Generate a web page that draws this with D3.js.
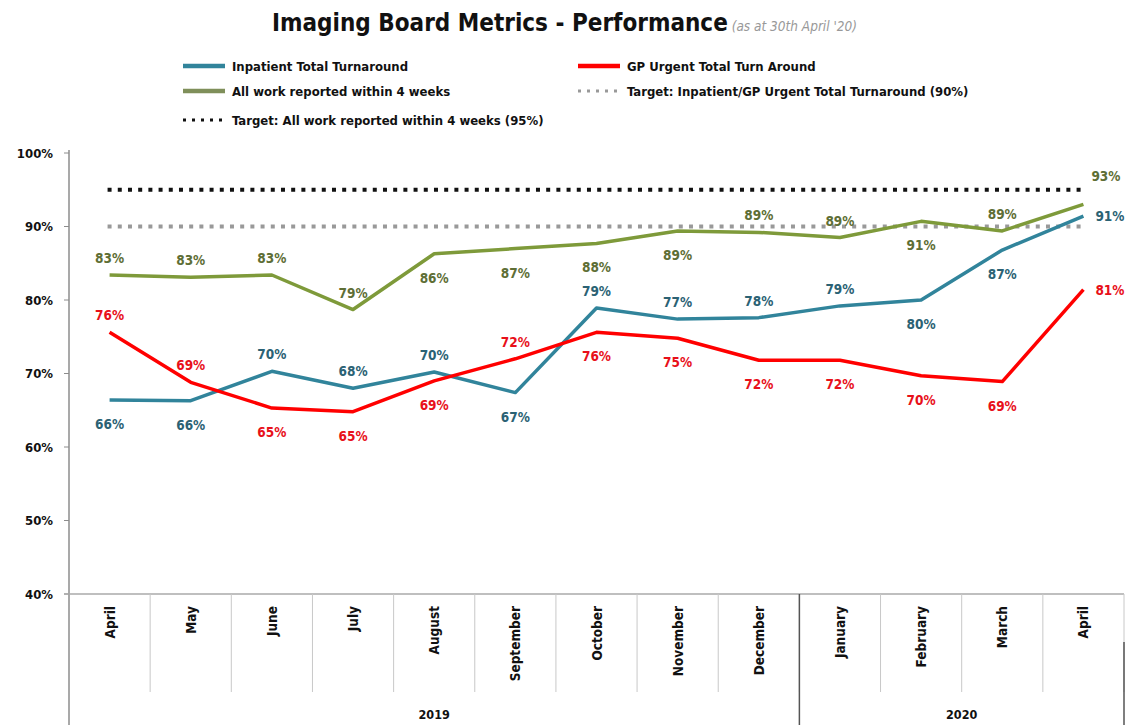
<!DOCTYPE html>
<html>
<head>
<meta charset="utf-8">
<style>
	body { margin: 0; background: #fff; }
	text { font-family: "Liberation Sans Narrow", "DejaVu Sans Condensed", "Liberation Sans", sans-serif; }
</style>
</head>
<body>
<svg width="1133" height="725"></svg>
<script src="https://d3js.org/d3.v7.min.js"></script>
<script>
	const svg = d3.select("svg");

	// chart data
	const months = ["April", "May", "June", "July", "August", "September", "October", "November", "December", "January", "February", "March", "April"];
	const years = [{ label: "2019", from: 0, to: 9 }, { label: "2020", from: 9, to: 13 }];
	const inpatient = [66.4, 66.3, 70.3, 68.0, 70.2, 67.4, 78.9, 77.4, 77.6, 79.2, 80.0, 86.8, 91.4];
	const gpUrgent = [75.6, 68.8, 65.3, 64.8, 69.0, 72.0, 75.6, 74.8, 71.8, 71.8, 69.7, 68.9, 81.4];
	const allWork = [83.4, 83.1, 83.4, 78.7, 86.3, 87.0, 87.7, 89.4, 89.2, 88.5, 90.7, 89.4, 93.0];
	const targetTurnaround = 90;
	const targetReported = 95;
	const yTicks = [40, 50, 60, 70, 80, 90, 100];

	// label placement: a = above, b = below, r = right
	const inpatientPos = ["b", "b", "a", "a", "a", "b", "a", "a", "a", "a", "b", "b", "r"];
	const gpPos = ["a", "a", "b", "b", "b", "a", "b", "b", "b", "b", "b", "b", "r"];
	const allWorkPos = ["a", "a", "a", "a", "b", "b", "b", "b", "a", "a", "b", "a", "ar"];

	const plotLeft = 69, plotRight = 1124, plotTop = 153, plotBottom = 594;

	const x = d3.scaleBand().domain(d3.range(months.length)).range([plotLeft, plotRight]);
	const y = d3.scaleLinear().domain([40, 100]).range([plotBottom, plotTop]);
	const cx = (i) => x(i) + x.bandwidth() / 2;

	// title
	const title = svg.append("text").attr("x", 272).attr("y", 31);
	title.append("tspan")
		.text("Imaging Board Metrics - Performance")
		.style("font-family", "'DejaVu Sans Condensed', sans-serif")
		.style("font-weight", "bold")
		.style("font-size", "24px")
		.attr("fill", "#111");
	title.append("tspan")
		.text(" (as at 30th April '20)")
		.style("font-style", "italic")
		.style("font-size", "13.5px")
		.attr("fill", "#999");

	// legend
	const legend = [
		{ label: "Inpatient Total Turnaround", color: "#31849b", dash: null, w: 4.5, x: 183, y: 66 },
		{ label: "GP Urgent Total Turn Around", color: "#ff0000", dash: null, w: 4.5, x: 578, y: 66 },
		{ label: "All work reported within 4 weeks", color: "#7f8f5a", dash: null, w: 4.5, x: 183, y: 91 },
		{ label: "Target: Inpatient/GP Urgent Total Turnaround (90%)", color: "#999", dash: "3,6", w: 3, x: 578, y: 91 },
		{ label: "Target: All work reported within 4 weeks (95%)", color: "#111", dash: "3,6", w: 3, x: 183, y: 120 },
	];
	const lg = svg.append("g").attr("class", "legend");
	legend.forEach((d) => {
		lg.append("line")
			.attr("x1", d.x).attr("x2", d.x + 42)
			.attr("y1", d.y).attr("y2", d.y)
			.attr("stroke", d.color)
			.attr("stroke-width", d.w)
			.attr("stroke-dasharray", d.dash);
		lg.append("text")
			.attr("x", d.x + 49).attr("y", d.y + 4.5)
			.text(d.label)
			.style("font-size", "13px")
			.style("font-weight", "bold")
			.attr("fill", "#111");
	});

	// y axis
	const yg = svg.append("g").attr("class", "yaxis");
	yg.append("line")
		.attr("x1", plotLeft).attr("x2", plotLeft)
		.attr("y1", plotTop - 3).attr("y2", 725)
		.attr("stroke", "#8c8c8c").attr("stroke-width", 1.5);
	yg.selectAll(".tick")
		.data(yTicks)
		.join("line")
		.attr("class", "tick")
		.attr("x1", plotLeft - 5).attr("x2", plotLeft)
		.attr("y1", (d) => y(d)).attr("y2", (d) => y(d))
		.attr("stroke", "#8c8c8c");
	yg.selectAll("text")
		.data(yTicks)
		.join("text")
		.attr("x", 53)
		.attr("y", (d) => y(d) + 4.5)
		.attr("text-anchor", "end")
		.style("font-size", "13px")
		.style("font-weight", "bold")
		.attr("fill", "#111")
		.text((d) => d + "%");

	// x axis (two-level category axis)
	const xg = svg.append("g").attr("class", "xaxis");
	xg.append("line")
		.attr("x1", plotLeft - 5).attr("x2", plotRight)
		.attr("y1", plotBottom).attr("y2", plotBottom)
		.attr("stroke", "#aaa").attr("stroke-width", 1.5);
	xg.selectAll(".sep")
		.data(d3.range(1, months.length + 1))
		.join("line")
		.attr("class", "sep")
		.attr("x1", (d) => plotLeft + d * x.bandwidth())
		.attr("x2", (d) => plotLeft + d * x.bandwidth())
		.attr("y1", plotBottom)
		.attr("y2", 692)
		.attr("stroke", "#c8c8c8");
	xg.selectAll(".ysep")
		.data(years.map((d) => d.to))
		.join("line")
		.attr("class", "ysep")
		.attr("x1", (d) => plotLeft + d * x.bandwidth())
		.attr("x2", (d) => plotLeft + d * x.bandwidth())
		.attr("y1", (d) => (d === months.length ? 642 : plotBottom))
		.attr("y2", 725)
		.attr("stroke", "#555")
		.attr("stroke-width", 1.5);
	xg.selectAll(".month")
		.data(months)
		.join("text")
		.attr("class", "month")
		.attr("transform", (d, i) => "translate(" + (cx(i) + 5) + "," + 606 + ") rotate(-90)")
		.attr("text-anchor", "end")
		.style("font-size", "13.5px")
		.style("font-weight", "bold")
		.attr("fill", "#111")
		.text((d) => d);
	xg.selectAll(".year")
		.data(years)
		.join("text")
		.attr("class", "year")
		.attr("x", (d) => plotLeft + ((d.from + d.to) / 2) * x.bandwidth())
		.attr("y", 719)
		.attr("text-anchor", "middle")
		.style("font-size", "12.5px")
		.style("font-weight", "bold")
		.attr("fill", "#111")
		.text((d) => d.label);

	// target lines
	const tg = svg.append("g").attr("class", "targets");
	[{ v: targetReported, c: "#111" }, { v: targetTurnaround, c: "#999" }].forEach((t) => {
		tg.append("line")
			.attr("x1", cx(0) - 2).attr("x2", cx(months.length - 1))
			.attr("y1", y(t.v)).attr("y2", y(t.v))
			.attr("stroke", t.c)
			.attr("stroke-width", 4)
			.attr("stroke-dasharray", "4,6.2");
	});

	// series
	const series = [
		{ values: allWork, color: "#7e9a3a", labelColor: "#5e6e35", pos: allWorkPos },
		{ values: inpatient, color: "#31849b", labelColor: "#2b6274", pos: inpatientPos },
		{ values: gpUrgent, color: "#ff0000", labelColor: "#e8101a", pos: gpPos },
	];
	const line = d3.line().x((d, i) => cx(i)).y((d) => y(d));
	const sg = svg.append("g").attr("class", "series");
	series.forEach((s) => {
		sg.append("path")
			.datum(s.values)
			.attr("d", line)
			.attr("fill", "none")
			.attr("stroke", s.color)
			.attr("stroke-width", 3.5)
			.attr("stroke-linejoin", "round");
	});
	series.forEach((s) => {
		sg.append("g")
			.selectAll("text")
			.data(s.values)
			.join("text")
			.attr("x", (d, i) => (s.pos[i] === "r" ? cx(i) + 12 : s.pos[i] === "ar" ? cx(i) + 8 : cx(i)))
			.attr("y", (d, i) => {
				const p = s.pos[i];
				if (p === "a") return y(d) - 12;
				if (p === "b") return y(d) + 29;
				if (p === "ar") return y(d) - 23;
				return y(d) + 5;
			})
			.attr("text-anchor", (d, i) => (s.pos[i] === "r" || s.pos[i] === "ar" ? "start" : "middle"))
			.style("font-size", "13.5px")
			.style("font-weight", "bold")
			.attr("fill", s.labelColor)
			.text((d) => Math.round(d) + "%");
	});
</script>
</body>
</html>
